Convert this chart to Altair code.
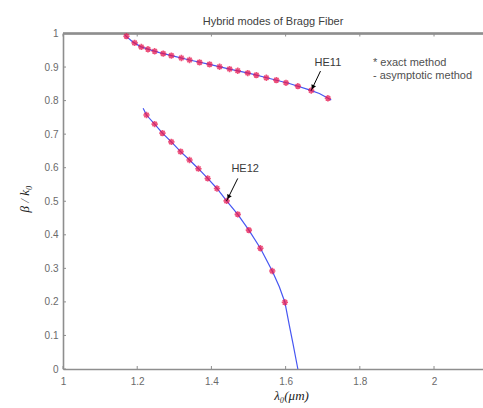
import altair as alt
import numpy as np
import pandas as pd

# ---- data: normalised propagation constant vs. free-space wavelength ----
# asymptotic-method curves
he11_line_x = [1.166, 1.188, 1.209, 1.233, 1.260, 1.301, 1.341, 1.395, 1.449,
               1.503, 1.557, 1.610, 1.664, 1.691, 1.723]
he11_line_y = [0.996, 0.975, 0.961, 0.952, 0.943, 0.932, 0.921, 0.908, 0.894,
               0.881, 0.866, 0.851, 0.832, 0.821, 0.802]
he12_line_x = [1.216, 1.225, 1.247, 1.268, 1.292, 1.317, 1.341, 1.365, 1.390,
               1.415, 1.441, 1.471, 1.501, 1.532, 1.564, 1.583, 1.598, 1.610,
               1.620, 1.633]
he12_line_y = [0.777, 0.757, 0.730, 0.703, 0.677, 0.648, 0.623, 0.597, 0.568,
               0.538, 0.501, 0.461, 0.414, 0.360, 0.292, 0.245, 0.199, 0.130,
               0.075, 0.000]

# exact-method points
he11_pts_x = [1.171, 1.193, 1.211, 1.229, 1.247, 1.270, 1.292, 1.319, 1.341,
              1.368, 1.395, 1.422, 1.449, 1.471, 1.498, 1.521, 1.548, 1.575,
              1.601, 1.633, 1.669, 1.714]
he11_pts_y = [0.992, 0.972, 0.960, 0.953, 0.947, 0.940, 0.934, 0.927, 0.921,
              0.914, 0.908, 0.901, 0.894, 0.889, 0.882, 0.876, 0.868, 0.861,
              0.853, 0.843, 0.830, 0.807]
he12_pts_x = [1.225, 1.247, 1.268, 1.292, 1.317, 1.341, 1.365, 1.390, 1.415,
              1.441, 1.471, 1.501, 1.532, 1.564, 1.598]
he12_pts_y = [0.757, 0.730, 0.703, 0.677, 0.648, 0.623, 0.597, 0.568, 0.538,
              0.501, 0.461, 0.414, 0.360, 0.292, 0.199]

x_ticks = [1, 1.2, 1.4, 1.6, 1.8, 2]
y_ticks = [0, 0.1, 0.2, 0.3, 0.4, 0.5, 0.6, 0.7, 0.8, 0.9, 1]

mode_labels = ["HE11", "HE12"]
label_pos_x = [1.714, 1.491]
label_pos_y = [0.912, 0.595]
arrow_tip_index = [20, 9]          # point each label arrow ends on
arrow_start_x = [1.694, 1.471]
arrow_start_y = [0.888, 0.568]

legend_lines = ["* exact method", "- asymptotic method"]
title_text = "Hybrid modes of Bragg Fiber"

# ---- layout constants ----
W, H = 420, 335.5
X_DOMAIN = [1, 2.132]
GRAY = "#8e8e8e"
LBL = "#6a6a6a"
SANS = "Liberation Sans, Arial, sans-serif"
SERIF = "Liberation Serif, DejaVu Serif, serif"

xs = alt.Scale(domain=X_DOMAIN, nice=False, zero=False)
ys = alt.Scale(domain=[0, 1], nice=False, zero=False)

lines = pd.concat([
    pd.DataFrame({"x": he11_line_x, "y": he11_line_y, "mode": "HE11",
                  "o": range(len(he11_line_x))}),
    pd.DataFrame({"x": he12_line_x, "y": he12_line_y, "mode": "HE12",
                  "o": range(len(he12_line_x))}),
])
points = pd.concat([
    pd.DataFrame({"x": he11_pts_x, "y": he11_pts_y, "mode": "HE11"}),
    pd.DataFrame({"x": he12_pts_x, "y": he12_pts_y, "mode": "HE12"}),
])

# annotation arrows: tip on an exact-method point, tail near the label
tips_x = [he11_pts_x[arrow_tip_index[0]], he12_pts_x[arrow_tip_index[1]]]
tips_y = [he11_pts_y[arrow_tip_index[0]], he12_pts_y[arrow_tip_index[1]]]
ann = pd.DataFrame({
    "label": mode_labels, "lx": label_pos_x, "ly": label_pos_y,
    "x": tips_x, "y": tips_y, "x2": arrow_start_x, "y2": arrow_start_y,
})
px_per_x = W / (X_DOMAIN[1] - X_DOMAIN[0])
px_per_y = H
dxp = (ann["x"] - ann["x2"]) * px_per_x
dyp = -(ann["y"] - ann["y2"]) * px_per_y
ann["ang"] = (np.degrees(np.arctan2(dxp, -dyp)) + 360) % 360
ann["hx"] = ann["x"] + 0.17 * (ann["x2"] - ann["x"])
ann["hy"] = ann["y"] + 0.17 * (ann["y2"] - ann["y"])

x_axis = alt.Axis(values=x_ticks, format="~g", ticks=False, grid=False,
                  domainColor=GRAY, domainWidth=1.6, labelFont=SANS,
                  labelFontSize=10, labelColor=LBL, labelPadding=7,
                  labelFlush=False, labelOverlap=False, title="λ₀(μm)",
                  titleFont=SERIF, titleFontSize=13, titleFontStyle="italic",
                  titleFontWeight="normal", titleColor="#222",
                  titleX=228, titleY=30, titleAlign="center",
                  titleBaseline="alphabetic")
y_axis = alt.Axis(values=y_ticks, format="~g", ticks=False, grid=False,
                  domainColor=GRAY, domainWidth=1.6, labelFont=SANS,
                  labelFontSize=10, labelColor=LBL, labelPadding=5,
                  labelFlush=False, labelOverlap=False, title="β / k₀",
                  titleFont=SERIF, titleFontSize=13, titleFontStyle="italic",
                  titleFontWeight="normal", titleColor="#222",
                  titleAngle=270, titleX=-39, titleY=165,
                  titleAlign="center", titleBaseline="middle")


def X(field):
    return alt.X(field, scale=xs, axis=x_axis)


def Y(field):
    return alt.Y(field, scale=ys, axis=y_axis)


curve = alt.Chart(lines).mark_line(color="#4656f2", strokeWidth=1.2).encode(
    x=X("x:Q"), y=Y("y:Q"), detail="mode:N", order="o:Q",
)

asterisk = "M-1,0L1,0M0,-1L0,1M-0.7,-0.7L0.7,0.7M-0.7,0.7L0.7,-0.7"
marks = alt.Chart(points).mark_point(
    shape=asterisk, filled=False, color="#e8174f", strokeWidth=1.6,
    size=40, opacity=0.75
).encode(x=X("x:Q"), y=Y("y:Q"))

arrows = alt.Chart(ann).mark_rule(color="black", strokeWidth=1).encode(
    x=X("x:Q"), y=Y("y:Q"), x2="x2:Q", y2="y2:Q"
)
heads = alt.Chart(ann).mark_point(
    shape="triangle-up", filled=True, color="black", size=26, opacity=1
).encode(x=X("hx:Q"), y=Y("hy:Q"), angle=alt.Angle("ang:Q", scale=None))
labels = alt.Chart(ann).mark_text(
    font=SANS, fontSize=11, color="#3a3a3a", align="center", baseline="middle"
).encode(x=X("lx:Q"), y=Y("ly:Q"), text="label:N")

# box top edge and inward tick marks
tick_x = pd.DataFrame({"x": x_ticks})
tick_y = pd.DataFrame({"y": y_ticks})
top_edge = alt.Chart(tick_x).mark_rule(color=GRAY, strokeWidth=1.6).encode(
    x=alt.value(0), x2=alt.value(W), y=alt.value(0))
ticks_bottom = alt.Chart(tick_x).mark_rule(color=GRAY, strokeWidth=1).encode(
    x=X("x:Q"), y=alt.value(H), y2=alt.value(H - 3))
ticks_top = alt.Chart(tick_x).mark_rule(color=GRAY, strokeWidth=1).encode(
    x=X("x:Q"), y=alt.value(0), y2=alt.value(3))
ticks_left = alt.Chart(tick_y).mark_rule(color=GRAY, strokeWidth=1).encode(
    y=Y("y:Q"), x=alt.value(0), x2=alt.value(3))

legend_layers = []
for i, line in enumerate(legend_lines):
    legend_layers.append(
        alt.Chart(pd.DataFrame({"t": [line]})).mark_text(
            font=SANS, fontSize=11, color="#505050", align="left",
            baseline="middle"
        ).encode(x=alt.value(310), y=alt.value(29.5 + 13 * i), text="t:N")
    )

chart = alt.layer(
    curve, ticks_bottom, ticks_top, ticks_left, top_edge,
    marks, arrows, heads, labels, *legend_layers
).properties(
    width=W, height=H,
    title=alt.TitleParams(title_text, font=SANS, fontSize=11,
                          fontWeight="normal", color="#404040",
                          anchor="middle", offset=2),
    padding={"left": 63, "top": 33.5, "right": 0, "bottom": 39},
    autosize=alt.AutoSizeParams(type="none"),
).configure_view(stroke=None).configure(background="white")

chart.save("out.html", embed_options={"renderer": "svg", "actions": False})
